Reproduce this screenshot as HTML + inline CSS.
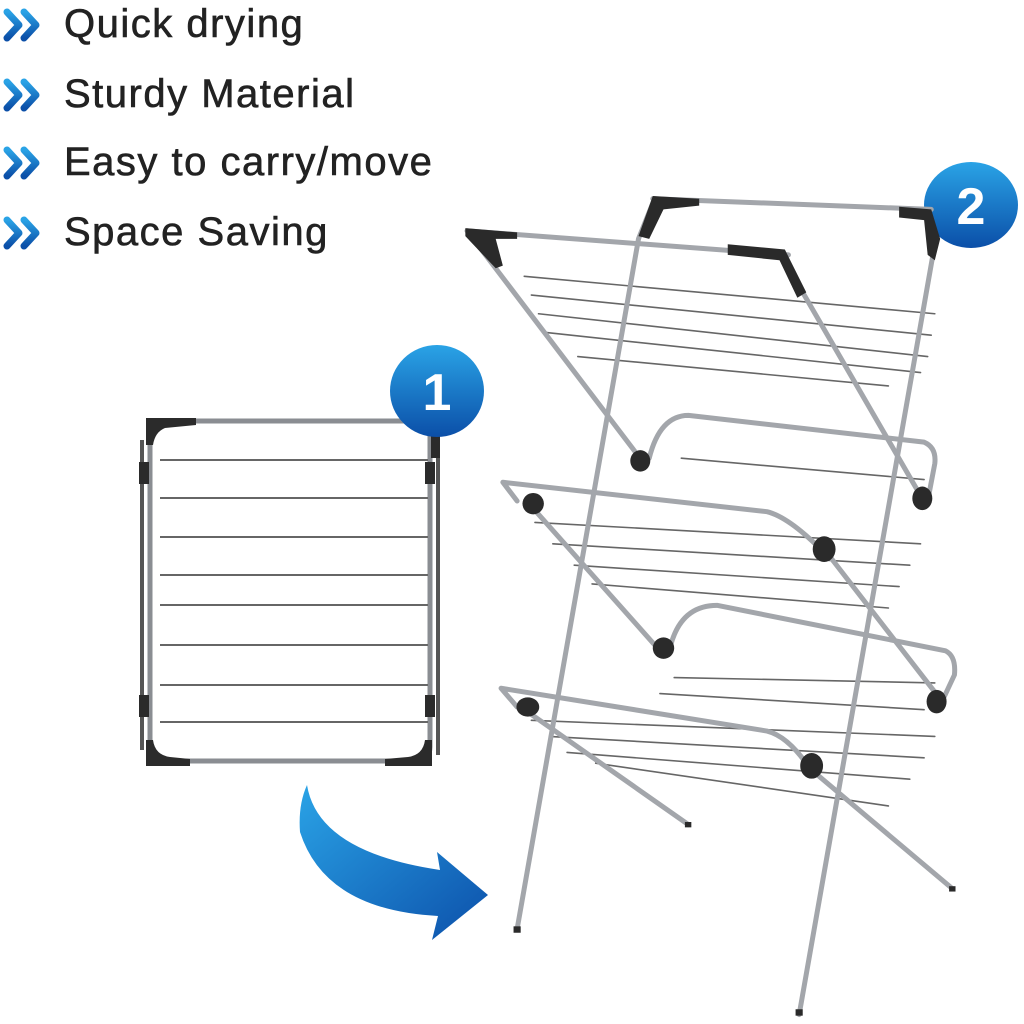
<!DOCTYPE html>
<html><head><meta charset="utf-8"><style>
html,body{margin:0;padding:0;background:#fff;}
body{width:1024px;height:1024px;overflow:hidden;position:relative;font-family:"Liberation Sans",sans-serif;}
.t{position:absolute;left:64px;font-size:40px;color:#222;letter-spacing:1.5px;-webkit-text-stroke:0.6px #222;}
</style></head><body>
<div class="t" style="top:2px">Quick drying</div>
<div class="t" style="top:72px">Sturdy Material</div>
<div class="t" style="top:140px">Easy to carry/move</div>
<div class="t" style="top:210px">Space Saving</div>
<svg width="1024" height="1024" style="position:absolute;left:0;top:0">
<defs>
<linearGradient id="bg" x1="0" y1="0" x2="0" y2="1"><stop offset="0" stop-color="#2aa3e6"/><stop offset="1" stop-color="#0b4fa8"/></linearGradient>
<linearGradient id="ag" x1="0" y1="0" x2="1" y2="1"><stop offset="0" stop-color="#2aa3e6"/><stop offset="1" stop-color="#0c50aa"/></linearGradient>
</defs>
<g fill="none" stroke="url(#bg)" stroke-width="7" stroke-linecap="round" stroke-linejoin="round">
<path d="M7 12 L19 25 L7 38 M24 12 L36 25 L24 38"/>
<path d="M7 82 L19 95 L7 108 M24 82 L36 95 L24 108"/>
<path d="M7 150 L19 163 L7 176 M24 150 L36 163 L24 176"/>
<path d="M7 220 L19 233 L7 246 M24 220 L36 233 L24 246"/>
</g>
<g fill="none" stroke="#7c7f84" stroke-width="3">
<rect x="150" y="421" width="280" height="340" rx="14" stroke="#8a8d92" stroke-width="5"/>
<line x1="142" y1="440" x2="142" y2="750" stroke="#555" stroke-width="4"/>
<line x1="438" y1="440" x2="438" y2="755" stroke="#555" stroke-width="4"/>
<g stroke="#666" stroke-width="2">
<line x1="160" y1="460" x2="428" y2="460"/>
<line x1="160" y1="498" x2="428" y2="498"/>
<line x1="160" y1="537" x2="428" y2="537"/>
<line x1="160" y1="575" x2="428" y2="575"/>
<line x1="160" y1="605" x2="428" y2="605"/>
<line x1="160" y1="645" x2="428" y2="645"/>
<line x1="160" y1="685" x2="428" y2="685"/>
<line x1="160" y1="722" x2="428" y2="722"/>
</g>
</g>
<g fill="#2b2b2b">
<path d="M146 418 L196 418 L196 425 L165 428 Q155 432 153 445 L146 445Z"/>
<path d="M146 740 L153 740 Q155 755 170 757 L190 759 L190 766 L146 766Z"/>
<path d="M432 740 L425 740 Q423 755 408 757 L385 759 L385 766 L432 766Z"/>
<rect x="431" y="430" width="9" height="28"/>
<rect x="139" y="462" width="10" height="22"/><rect x="425" y="462" width="10" height="22"/>
<rect x="139" y="695" width="10" height="22"/><rect x="425" y="695" width="10" height="22"/>
</g>
<path d="M307 785 Q318 852 440 870 L437 852 L488 895 L432 940 L438 916 Q325 910 300 832 Q298 805 307 785Z" fill="url(#ag)"/>
<ellipse cx="437" cy="391" rx="47" ry="46" fill="url(#bg)"/>
<text x="437" y="410" text-anchor="middle" font-family="Liberation Sans" font-weight="bold" font-size="52" fill="#fff">1</text>
<ellipse cx="971" cy="205" rx="47" ry="43" fill="url(#bg)"/>
<text x="971" y="224" text-anchor="middle" font-family="Liberation Sans" font-weight="bold" font-size="52" fill="#fff">2</text>
<g transform="translate(460,180) scale(0.357,0.535)" fill="none" stroke-linecap="round" stroke-linejoin="round">
<g stroke="#666" stroke-width="1.6">
<path vector-effect="non-scaling-stroke" d="M180 180 L1330 250 M200 215 L1320 290 M220 250 L1310 330 M240 285 L1290 360 M330 330 L1200 385"/>
<path vector-effect="non-scaling-stroke" d="M210 640 L1290 680 M260 680 L1260 720 M320 720 L1230 760 M370 755 L1200 800 M620 520 L1300 560"/>
<path vector-effect="non-scaling-stroke" d="M200 1010 L1330 1040 M250 1040 L1300 1080 M300 1070 L1260 1120 M380 1090 L1200 1170 M600 930 L1330 940 M560 960 L1300 990"/>
</g>
<g stroke="#a3a6ab" stroke-width="5">
<path vector-effect="non-scaling-stroke" d="M545 35 L500 110 L160 1400"/>
<path vector-effect="non-scaling-stroke" d="M1330 120 L950 1560"/>
<path vector-effect="non-scaling-stroke" d="M20 95 L510 525"/>
<path vector-effect="non-scaling-stroke" d="M960 210 L1290 590"/>
<path vector-effect="non-scaling-stroke" d="M200 610 L560 880"/>
<path vector-effect="non-scaling-stroke" d="M1020 690 L1345 970"/>
<path vector-effect="non-scaling-stroke" d="M170 985 L640 1205"/>
<path vector-effect="non-scaling-stroke" d="M980 1100 L1380 1325"/>
<path vector-effect="non-scaling-stroke" d="M20 95 L920 140"/>
<path vector-effect="non-scaling-stroke" d="M540 35 L1320 55"/>
<path vector-effect="non-scaling-stroke" d="M530 520 Q560 440 640 440 L1300 490 Q1335 500 1330 530 L1310 600"/>
<path vector-effect="non-scaling-stroke" d="M160 600 L120 565 L860 620 Q920 630 1010 690"/>
<path vector-effect="non-scaling-stroke" d="M590 870 Q620 795 720 795 L1360 880 Q1390 890 1385 925 L1350 975"/>
<path vector-effect="non-scaling-stroke" d="M160 985 L115 950 L860 1030 Q920 1040 980 1100"/>
</g>
<g fill="#2a2a2a">
<path d="M15 90 L160 98 L160 110 L100 110 L120 160 L100 165 L15 105Z"/>
<path d="M750 120 L910 130 L970 210 L945 220 L895 150 L750 140Z"/>
<path d="M540 30 L670 35 L670 48 L570 55 L530 110 L500 105Z"/>
<path d="M1230 50 L1320 55 L1345 110 L1330 150 L1310 140 L1300 75 L1230 70Z"/>
<ellipse cx="505" cy="525" rx="28" ry="20"/>
<ellipse cx="205" cy="605" rx="30" ry="20"/>
<ellipse cx="1295" cy="595" rx="28" ry="22"/>
<ellipse cx="1020" cy="690" rx="32" ry="24"/>
<ellipse cx="570" cy="875" rx="30" ry="20"/>
<ellipse cx="190" cy="985" rx="32" ry="18"/>
<ellipse cx="1335" cy="975" rx="28" ry="22"/>
<ellipse cx="985" cy="1095" rx="32" ry="24"/>
<rect x="150" y="1395" width="20" height="12"/>
<rect x="940" y="1550" width="20" height="12"/>
<rect x="630" y="1200" width="18" height="10"/>
<rect x="1370" y="1320" width="18" height="10"/>
</g>
</g>
</svg>
</body></html>
